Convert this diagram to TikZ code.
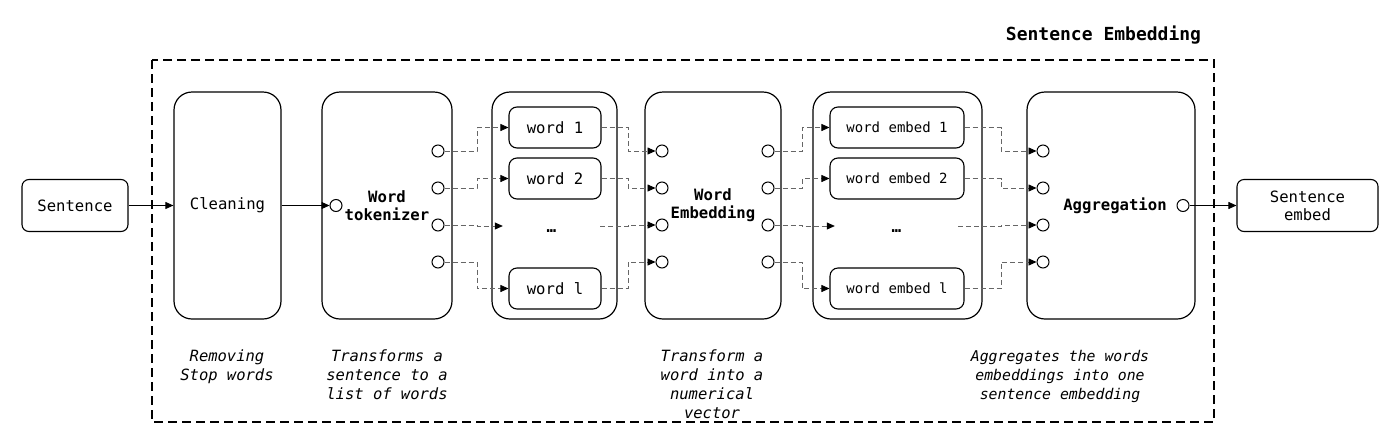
\documentclass[tikz,border=0pt]{standalone}
\usepackage{fontspec}
\setmainfont{DejaVu Sans Mono}
\usetikzlibrary{arrows.meta}
\begin{document}
\begin{tikzpicture}[x=1pt,y=-1pt,
  bigbox/.style={draw,line width=1.2pt,rounded corners=18pt,inner sep=0pt,minimum height=227pt,align=center},
  smallbox/.style={draw,line width=1.1pt,rounded corners=8pt,inner sep=0pt,minimum height=41pt,align=center},
  port/.style={draw,circle,line width=1pt,fill=white,minimum size=12pt,inner sep=0pt},
  conn/.style={draw=black!60,line width=0.8pt,dash pattern=on 5pt off 3pt,-{Triangle[length=8pt,width=7pt,color=black]}},
  solidarr/.style={draw,line width=0.9pt,-{Triangle[length=8pt,width=7pt]}},
  txt/.style={font=\fontsize{15.6}{18}\selectfont},
  btxt/.style={font=\fontsize{15.6}{18}\selectfont\bfseries},
  etxt/.style={font=\fontsize{14}{17}\selectfont},
  dotsbox/.style={inner sep=0pt,text height=12pt,text depth=0pt,font=\fontsize{16}{18}\selectfont\bfseries},
  captxt/.style={font=\fontsize{15.5}{19}\selectfont\itshape,align=center,anchor=north,inner sep=0pt},
]
\useasboundingbox (0,0) rectangle (1400,445);

% outer dashed frame
\draw[line width=1.3pt,dash pattern=on 9pt off 5pt] (152,60) rectangle (1214,422);
\node[font=\fontsize{18}{20}\selectfont\bfseries] (title) at (1103.5,35) {Sentence Embedding};

% helper x positions
\coordinate (x1) at (477,0);
\coordinate (x2) at (628,0);
\coordinate (x3) at (802,0);
\coordinate (x4) at (1001,0);

% main boxes
\node[smallbox,minimum width=106pt,minimum height=52pt,rounded corners=7pt,txt] (sent) at (75,205.5) {Sentence};
\node[bigbox,minimum width=107pt,txt] (clean) at (227.5,205.5) {Cleaning};
\node[bigbox,minimum width=130pt,btxt] (tok) at (387,205.5) {Word\\tokenizer};
\node[bigbox,minimum width=125pt] (words) at (554.5,205.5) {};
\node[bigbox,minimum width=136pt,btxt] (we) at (713,205.5) {Word\\Embedding};
\node[bigbox,minimum width=169pt] (embs) at (897.5,205.5) {};
\node[bigbox,minimum width=168pt] (agg) at (1111,205.5) {};
\node[btxt] (agglbl) at (1115,205.5) {Aggregation};
\node[smallbox,minimum width=141pt,minimum height=52pt,rounded corners=7pt,txt] (sentemb) at (1307.5,205.5) {Sentence\\embed};

% word boxes
\node[smallbox,minimum width=92pt,txt] (w1) at (555,127.5) {word 1};
\node[smallbox,minimum width=92pt,txt] (w2) at (555,178.5) {word 2};
\node[dotsbox,minimum width=97pt] (d1) at (551.5,226) {…};
\node[smallbox,minimum width=92pt,txt] (wl) at (555,288.5) {word l};

% embed boxes
\node[smallbox,minimum width=134pt,etxt] (e1) at (897,127.5) {word embed 1};
\node[smallbox,minimum width=134pt,etxt] (e2) at (897,178.5) {word embed 2};
\node[dotsbox,minimum width=123pt] (d2) at (896.5,226) {…};
\node[smallbox,minimum width=134pt,etxt] (el) at (897,288.5) {word embed l};

% ports
\node[port] (tkI) at (336,205.5) {};
\foreach \i/\y in {1/151,2/188,3/225,4/262}{
  \node[port] (tkO\i) at (438,\y) {};
  \node[port] (weI\i) at (662,\y) {};
  \node[port] (weO\i) at (768,\y) {};
  \node[port] (agI\i) at (1043,\y) {};
}
\node[port] (agO) at (1183,205.5) {};

% solid arrows
\draw[solidarr] (sent.east) -- (clean.west);
\draw[solidarr] (clean.east) -- (tkI.west);
\draw[solidarr] (agO.east) -- (sentemb.west);

% tokenizer -> words
\draw[conn] (tkO1.east) -- (tkO1.east -| x1) |- (w1.west);
\draw[conn] (tkO2.east) -- (tkO2.east -| x1) |- (w2.west);
\draw[conn] (tkO3.east) -- (tkO3.east -| x1) |- (d1.west);
\draw[conn] (tkO4.east) -- (tkO4.east -| x1) |- (wl.west);

% words -> word embedding
\draw[conn] (w1.east) -- (w1.east -| x2) |- (weI1.west);
\draw[conn] (w2.east) -- (w2.east -| x2) |- (weI2.west);
\draw[conn] (d1.east) -- (d1.east -| x2) |- (weI3.west);
\draw[conn] (wl.east) -- (wl.east -| x2) |- (weI4.west);

% word embedding -> embeds
\draw[conn] (weO1.east) -- (weO1.east -| x3) |- (e1.west);
\draw[conn] (weO2.east) -- (weO2.east -| x3) |- (e2.west);
\draw[conn] (weO3.east) -- (weO3.east -| x3) |- (d2.west);
\draw[conn] (weO4.east) -- (weO4.east -| x3) |- (el.west);

% embeds -> aggregation
\draw[conn] (e1.east) -- (e1.east -| x4) |- (agI1.west);
\draw[conn] (e2.east) -- (e2.east -| x4) |- (agI2.west);
\draw[conn] (d2.east) -- (d2.east -| x4) |- (agI3.west);
\draw[conn] (el.east) -- (el.east -| x4) |- (agI4.west);

% captions
\node[captxt] (c1) at (227,350) {Removing\\Stop words};
\node[captxt] (c2) at (387,350) {Transforms a\\sentence to a\\list of words};
\node[captxt] (c3) at (712,350) {Transform a\\word into a\\numerical\\vector};
\node[captxt,font=\fontsize{14.8}{19}\selectfont\itshape] (c4) at (1060,350) {Aggregates the words\\embeddings into one\\sentence embedding};
\end{tikzpicture}
\end{document}
